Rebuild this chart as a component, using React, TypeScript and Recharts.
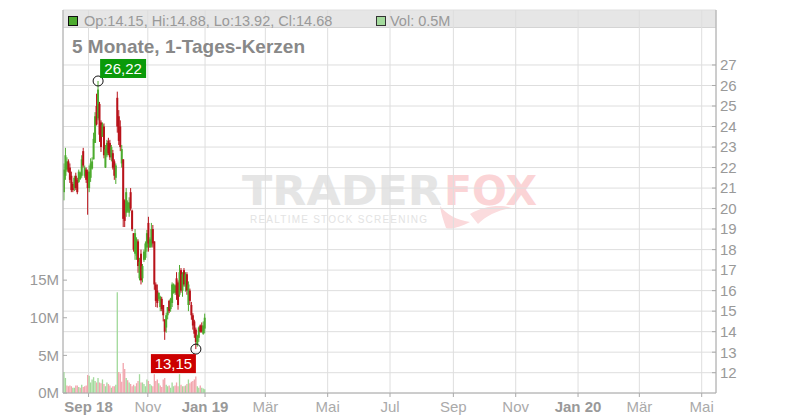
import { ComposedChart, Bar, XAxis, YAxis, CartesianGrid, Cell, ReferenceDot } from 'recharts';

// ─── Data ─────────────────────────────────────────────────────────────────────

const OPEN = [
  20.8, 21.6, 21.9, 22.3, 22.0, 21.6, 21.2, 21.0, 21.6, 21.4, 21.3, 21.45, 21.6, 22.8, 21.6, 21.9,
  21.8, 21.0, 21.5, 21.95, 22.4, 23.2, 25.0, 24.4, 25.1, 24.2, 23.5, 24.0, 22.0, 22.6, 23.3, 23.2,
  22.5, 22.7, 22.3, 21.5, 25.4, 24.5, 24.0, 22.2, 22.4, 20.4, 19.8, 19.9, 19.8, 20.8, 19.9, 18.8,
  17.8, 17.7, 18.4, 16.6, 17.8, 16.6, 17.5, 17.6, 18.1, 19.3, 18.1, 18.2, 19.0, 18.4, 16.3, 16.0,
  15.6, 15.2, 15.6, 15.3, 14.6, 14.2, 14.8, 15.5, 15.1, 15.4, 15.9, 15.9, 16.6, 16.4, 15.8, 17.0,
  16.0, 17.0, 16.2, 16.8, 15.3, 16.0, 15.3, 14.8, 14.5, 14.1, 13.4, 13.7, 14.3, 14.3, 13.9, 14.15,
];
const HIGH = [
  22.2, 22.96, 22.5, 22.4, 22.2, 21.8, 21.3, 21.6, 21.75, 21.5, 21.9, 21.8, 22.6, 22.96, 22.1, 22.0,
  21.9, 22.1, 22.45, 22.5, 23.7, 24.7, 25.6, 26.22, 25.2, 24.3, 24.2, 24.15, 23.1, 23.35, 23.45, 23.35,
  23.1, 22.86, 22.4, 22.2, 25.7, 24.8, 24.3, 23.1, 22.4, 20.45, 21.0, 20.4, 20.55, 21.0, 19.95, 18.8,
  19.0, 18.6, 18.5, 17.6, 18.0, 17.3, 18.0, 18.4, 18.96, 19.6, 18.6, 19.3, 19.2, 18.4, 16.4, 16.3,
  15.9, 15.75, 15.7, 15.3, 14.6, 14.93, 15.2, 15.55, 15.65, 16.4, 16.35, 16.3, 16.9, 16.5, 17.25, 17.1,
  16.9, 17.1, 16.9, 16.9, 16.45, 16.1, 15.45, 14.9, 14.58, 14.2, 13.85, 14.25, 14.35, 14.45, 14.5, 14.88,
];
const LOW = [
  20.4, 21.4, 21.8, 21.75, 21.25, 20.8, 20.8, 20.85, 20.9, 20.7, 21.25, 21.4, 21.5, 22.0, 21.5, 21.25,
  19.7, 20.8, 21.3, 21.9, 22.4, 23.2, 24.05, 24.3, 23.25, 22.76, 23.5, 22.45, 21.98, 22.5, 22.6, 22.37,
  22.3, 21.9, 21.4, 21.2, 23.7, 23.1, 22.8, 22.0, 19.1, 19.1, 19.6, 19.8, 19.6, 19.9, 18.9, 17.9,
  17.5, 17.5, 16.87, 16.5, 16.3, 16.4, 17.4, 17.5, 17.9, 17.9, 18.1, 18.1, 18.1, 16.04, 15.2, 15.17,
  15.5, 15.0, 15.0, 14.5, 13.6, 13.95, 14.6, 14.9, 14.97, 15.2, 15.85, 15.8, 15.55, 15.07, 15.7, 15.9,
  15.7, 16.2, 15.95, 15.8, 15.0, 15.3, 14.58, 14.1, 13.7, 13.15, 13.27, 13.5, 13.95, 13.95, 13.85, 13.92,
];
const CLOSE = [
  21.9, 22.6, 22.3, 21.8, 21.4, 20.9, 20.9, 21.5, 21.0, 20.8, 21.8, 21.75, 22.4, 22.1, 22.0, 21.4,
  21.0, 21.8, 22.2, 22.3, 23.4, 24.5, 24.1, 25.8, 23.6, 23.0, 24.1, 22.6, 22.9, 23.2, 22.7, 22.5,
  23.0, 22.0, 21.6, 22.1, 24.0, 23.3, 23.0, 22.9, 19.5, 19.4, 20.8, 20.3, 20.3, 20.0, 19.0, 18.0,
  18.8, 18.5, 17.2, 17.4, 16.5, 17.2, 17.9, 18.3, 18.8, 18.3, 18.5, 19.0, 18.3, 16.3, 15.5, 15.4,
  15.9, 15.7, 15.1, 14.8, 14.0, 14.8, 15.2, 15.0, 15.6, 16.3, 16.3, 16.25, 15.8, 15.3, 16.9, 16.0,
  16.8, 16.3, 16.8, 16.0, 16.3, 15.5, 14.8, 14.3, 13.9, 13.5, 13.8, 14.2, 14.0, 14.0, 14.3, 14.68,
];
// volume in millions
const VOLUME = [
  2.8, 2.0, 1.0, 0.9, 1.0, 0.9, 0.7, 0.7, 1.0, 1.0, 0.8, 0.7, 1.1, 0.8, 0.9, 1.0,
  2.4, 2.3, 1.4, 1.8, 2.1, 1.6, 1.4, 2.0, 1.4, 1.3, 1.8, 1.2, 0.9, 1.4, 1.2, 1.0,
  0.7, 0.9, 0.9, 1.1, 13.4, 2.8, 2.6, 1.5, 4.0, 3.2, 2.0, 1.7, 1.4, 1.2, 0.9, 1.1,
  0.9, 1.3, 1.6, 2.5, 1.4, 1.4, 1.2, 0.9, 1.8, 1.6, 1.2, 1.0, 0.9, 2.5, 1.6, 1.8,
  1.3, 1.0, 0.8, 1.8, 2.0, 1.1, 0.9, 1.0, 0.7, 1.4, 0.9, 1.0, 1.4, 0.9, 2.5, 1.1,
  0.9, 0.9, 1.0, 1.2, 1.8, 1.3, 1.5, 1.6, 1.8, 2.2, 0.9, 0.7, 1.0, 0.7, 0.6, 0.5,
];

// days relative to 1 Jan 2019
const FIRST_DAY = -138;
const DAY_STEP = 1.45;
const X_DOMAIN = [-139, 500];
const X_TICKS = [-114, -56, 0, 59, 120, 181, 243, 304, 365, 425, 486];
const X_LABELS = ['Sep 18', 'Nov', 'Jan 19', 'Mär', 'Mai', 'Jul', 'Sep', 'Nov', 'Jan 20', 'Mär', 'Mai'];
const X_BOLD = ['Sep 18', 'Jan 19', 'Jan 20'];

const PRICE_DOMAIN = [11.01, 29.68];
const PRICE_TICKS = [12, 13, 14, 15, 16, 17, 18, 19, 20, 21, 22, 23, 24, 25, 26, 27];
const VOL_DOMAIN = [0, 50.9];
const VOL_TICKS = [0, 5, 10, 15];

// ─── Styling ──────────────────────────────────────────────────────────────────

const GREEN = '#4cab2e';
const RED = '#b8121a';
const VOL_GREEN = '#a3da9c';
const VOL_RED = '#f2a6ae';
const GRID = '#dedede';
const AXIS = '#aaaaaa';
const TEXT = '#999999';
const FONT = '"Liberation Sans", Arial, sans-serif';

const rows = OPEN.map((open, i) => ({
  day: FIRST_DAY + i * DAY_STEP,
  open,
  high: HIGH[i],
  low: LOW[i],
  close: CLOSE[i],
  range: [LOW[i], HIGH[i]],
  vol: VOLUME[i],
  volColor: i === 0 || CLOSE[i] >= CLOSE[i - 1] ? VOL_GREEN : VOL_RED,
}));

const hiIdx = HIGH.indexOf(Math.max(...HIGH));
const loIdx = LOW.indexOf(Math.min(...LOW));
const last = rows[rows.length - 1];
const fmt = (v: number) => v.toFixed(2).replace('.', ',');

// ─── Shapes ───────────────────────────────────────────────────────────────────

function Candle(props: any) {
  const { x, y, width, height, payload } = props;
  if (!payload || x == null) return null;
  const { open, high, low, close } = payload;
  const top = Math.min(y, y + height);
  const h = Math.abs(height);
  const cx = x + width / 2;
  const k = h / (high - low || 1);
  const yO = top + (high - open) * k;
  const yC = top + (high - close) * k;
  const color = close >= open ? GREEN : RED;
  return (
    <g>
      <line x1={cx} x2={cx} y1={top} y2={top + h} stroke={color} strokeWidth={1} />
      <rect x={cx - 1} y={Math.min(yO, yC)} width={2} height={Math.max(Math.abs(yC - yO), 1)} fill={color} />
    </g>
  );
}

function HighMarker({ cx, cy, text }: any) {
  return (
    <g>
      <circle cx={cx} cy={cy} r={5} fill="none" stroke="#111" strokeWidth={1} />
      <rect x={cx + 2} y={cy - 22} width={46} height={19} fill="#0a9a0a" />
      <text x={cx + 25} y={cy - 7} textAnchor="middle" fill="#fff" fontSize={15} fontFamily={FONT}>
        {text}
      </text>
    </g>
  );
}

function LowMarker({ cx, cy, text }: any) {
  return (
    <g>
      <circle cx={cx} cy={cy} r={5} fill="none" stroke="#111" strokeWidth={1} />
      <rect x={cx - 45} y={cy + 5} width={45} height={19} fill="#cc0000" />
      <text x={cx - 22.5} y={cy + 20} textAnchor="middle" fill="#fff" fontSize={15} fontFamily={FONT}>
        {text}
      </text>
    </g>
  );
}

function XTick({ x, y, payload }: any) {
  const label = X_LABELS[X_TICKS.indexOf(payload.value)] ?? '';
  const bold = X_BOLD.includes(label);
  return (
    <text
      x={x}
      y={y}
      dy={10.5}
      textAnchor="middle"
      fill={bold ? TEXT : '#aaaaaa'}
      fontWeight={bold ? 'bold' : 'normal'}
      fontSize={15}
      fontFamily={FONT}
    >
      {label}
    </text>
  );
}

// ─── Main ─────────────────────────────────────────────────────────────────────

export default function App() {
  const layer: React.CSSProperties = { position: 'absolute', left: 0, top: 0 };
  return (
    <div style={{ position: 'absolute', left: 0, top: 0, width: 800, height: 420, background: '#fff' }}>
      {/* background: header bar + watermark */}
      <svg width={800} height={420} style={layer}>
        <rect x={63} y={10} width={653} height={18} fill="#e6e6e6" />
        <line x1={63} x2={716} y1={27.5} y2={27.5} stroke="#d4d4d4" />
        <text
          x={242}
          y={205}
          fontSize={40}
          fontWeight="bold"
          fill="#e5e5e5"
          fontFamily='"DejaVu Sans", sans-serif'
          textLength={200}
          lengthAdjust="spacingAndGlyphs"
        >
          TRADER
        </text>
        <text
          x={444}
          y={205}
          fontSize={40}
          fontWeight="bold"
          fill="#fbd4d6"
          fontFamily='"DejaVu Sans", sans-serif'
          textLength={93}
          lengthAdjust="spacingAndGlyphs"
        >
          FOX
        </text>
        <path d="M440 206 C446 214 456 220 470 222 C462 226 452 230 446 228 C444 222 441 214 440 206 Z" fill="#fbd9db" />
        <path d="M470 214 C484 206 500 204 512 208 C498 210 486 216 478 224 Z" fill="#fbdcde" />
        <text
          x={250}
          y={223}
          fontSize={10}
          fill="#e3e3e3"
          fontFamily={FONT}
          textLength={177}
          lengthAdjust="spacing"
        >
          REALTIME STOCK SCREENING
        </text>
      </svg>

      <div style={layer}>
        <ComposedChart width={800} height={420} data={rows} margin={{ top: 10, right: 0, bottom: 0, left: 0 }}>
          <CartesianGrid xAxisId="main" yAxisId="price" stroke={GRID} strokeWidth={1} />
          <XAxis
            xAxisId="main"
            type="number"
            dataKey="day"
            domain={X_DOMAIN}
            allowDataOverflow
            ticks={X_TICKS}
            interval={0}
            height={27}
            tick={<XTick />}
            tickSize={4}
            tickMargin={4}
            stroke={AXIS}
          />
          <XAxis xAxisId="vol" type="number" dataKey="day" domain={X_DOMAIN} allowDataOverflow hide />
          <YAxis
            yAxisId="vol"
            orientation="left"
            width={63}
            type="number"
            domain={VOL_DOMAIN}
            allowDataOverflow
            ticks={VOL_TICKS}
            interval={0}
            tickSize={-4}
            tickMargin={8}
            tickFormatter={(v: number) => `${v}M`}
            tick={{ fill: TEXT, fontSize: 15, fontFamily: FONT }}
            stroke={AXIS}
          />
          <YAxis
            yAxisId="price"
            orientation="right"
            width={84}
            type="number"
            domain={PRICE_DOMAIN}
            allowDataOverflow
            ticks={PRICE_TICKS}
            interval={0}
            tickSize={-4}
            tickMargin={8}
            tick={{ fill: TEXT, fontSize: 15, fontFamily: FONT, textAnchor: 'start' }}
            stroke={AXIS}
          />
          <Bar xAxisId="vol" yAxisId="vol" dataKey="vol" barSize={2} isAnimationActive={false}>
            {rows.map((r, i) => (
              <Cell key={i} fill={r.volColor} />
            ))}
          </Bar>
          <Bar
            xAxisId="main"
            yAxisId="price"
            dataKey="range"
            barSize={2}
            isAnimationActive={false}
            shape={(p: any) => <Candle {...p} />}
          />
          <ReferenceDot
            xAxisId="main"
            yAxisId="price"
            x={rows[hiIdx].day}
            y={HIGH[hiIdx]}
            r={5}
            shape={(p: any) => <HighMarker {...p} text={fmt(HIGH[hiIdx])} />}
          />
          <ReferenceDot
            xAxisId="main"
            yAxisId="price"
            x={rows[loIdx].day}
            y={LOW[loIdx]}
            r={5}
            shape={(p: any) => <LowMarker {...p} text={fmt(LOW[loIdx])} />}
          />
        </ComposedChart>
      </div>

      {/* foreground texts */}
      <svg width={800} height={420} style={{ ...layer, pointerEvents: 'none' }}>
        <rect x={68.5} y={16.5} width={9} height={9} fill={GREEN} stroke="#111" strokeWidth={1} />
        <text x={84} y={25.5} fontSize={14.5} fill={TEXT} fontFamily={FONT}>
          {`Op:${last.open.toFixed(2)}, Hi:${last.high.toFixed(2)}, Lo:${last.low.toFixed(2)}, Cl:${last.close.toFixed(2)}`}
        </text>
        <rect x={376.5} y={16.5} width={9} height={9} fill={VOL_GREEN} stroke="#333" strokeWidth={1} />
        <text x={390} y={25.5} fontSize={14.5} fill={TEXT} fontFamily={FONT}>
          {`Vol: ${last.vol}M`}
        </text>
        <text x={72} y={53} fontSize={19} fontWeight="bold" fill="#888888" fontFamily={FONT}>
          5 Monate, 1-Tages-Kerzen
        </text>
      </svg>
    </div>
  );
}
